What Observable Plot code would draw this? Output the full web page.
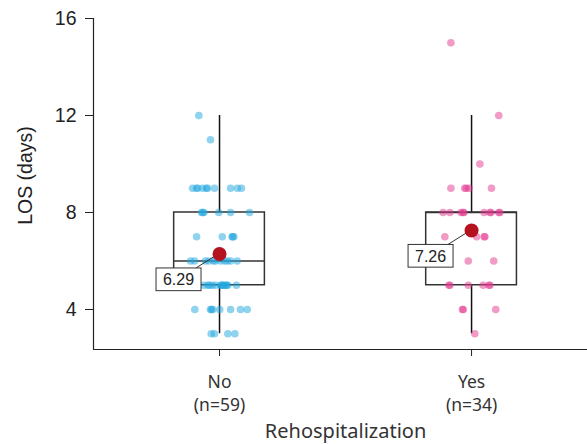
<!DOCTYPE html>
<html>
<head>
<meta charset="utf-8">
<script src="https://cdn.jsdelivr.net/npm/d3@7"></script>
<script src="https://cdn.jsdelivr.net/npm/@observablehq/plot@0.6"></script>
<style>
  html, body { margin: 0; padding: 0; background: #fff; }
</style>
</head>
<body>
<div id="chart"></div>
<script>
// ---- data ----
const categories = ["No", "Yes"];
const means = [6.29, 7.26];
const yTicks = [4, 8, 12, 16];
const yDomain = [2.35, 16];
const xDomain = [-0.5, 1.46];
const xTitle = "Rehospitalization";
const yTitle = "LOS (days)";

// Rehospitalization = No (n=59): length of stay and horizontal jitter (category units)
const noLOS = [
  12, 11,
  9, 9, 9, 9, 9, 9, 9, 9, 9, 9,
  8, 8, 8, 8, 8, 8,
  7, 7, 7, 7, 7,
  6, 6, 6, 6, 6, 6, 6, 6, 6, 6, 6,
  5, 5, 5, 5, 5, 5, 5, 5, 5, 5, 5, 5, 5,
  4, 4, 4, 4, 4, 4, 4, 4,
  3, 3, 3, 3
];
const noJitter = [
  -0.082, -0.036,
  -0.107, -0.091, -0.087, -0.067, -0.052, -0.048, -0.020, 0.044, 0.071, 0.087,
  -0.071, -0.062, -0.003, 0.044, 0.119, -0.067,
  -0.091, 0.011, 0.050, 0.057, 0.052,
  -0.115, -0.099, -0.056, -0.042, -0.024, 0.004, 0.031, 0.044, 0.070, -0.016, 0.020,
  -0.062, -0.046, -0.029, -0.016, 0.004, 0.012, 0.017, 0.024, 0.033, 0.067, -0.040, 0.008, 0.028,
  -0.098, -0.036, -0.027, 0.001, 0.044, 0.083, 0.110, -0.032,
  -0.033, -0.020, 0.033, 0.061
];

// Rehospitalization = Yes (n=34)
const yesLOS = [
  15, 12, 10,
  9, 9, 9, 9, 9,
  8, 8, 8, 8, 8, 8, 8, 8, 8, 8,
  7, 7, 7, 7,
  6, 6,
  5, 5, 5, 5, 5, 5,
  4, 4, 4,
  3
];
const yesJitter = [
  -0.082, 0.108, 0.033,
  -0.082, -0.027, -0.021, -0.010, 0.079,
  -0.113, -0.086, -0.042, -0.033, -0.031, 0.050, 0.073, 0.077, 0.108, 0.112,
  -0.106, 0.020, 0.050, 0.053,
  -0.013, 0.088,
  -0.090, -0.086, -0.013, 0.046, 0.069, 0.073,
  -0.036, -0.033, 0.096,
  0.013
];

const groupValues = [noLOS, yesLOS];
const groupJitter = [noJitter, yesJitter];
const groupColors = ["#22a8e0", "#e4388f"];

// ---- derived tables ----
const points = groupValues.map((vals, i) =>
  vals.map((v, j) => ({ x: i + groupJitter[i][j], y: v, g: i })));

const stats = groupValues.map((vals, i) => {
  const s = vals.slice().sort(d3.ascending);
  const q1 = d3.quantile(s, 0.25), med = d3.quantile(s, 0.5), q3 = d3.quantile(s, 0.75);
  const iqr = q3 - q1;
  const hi = d3.max(s.filter(v => v <= q3 + 1.5 * iqr));
  const lo = d3.min(s.filter(v => v >= q1 - 1.5 * iqr));
  return { pos: i, cat: categories[i], n: vals.length, q1, med, q3, lo, hi, mean: means[i],
           label: `${categories[i]}\n(n=${vals.length})` };
});

const boxHalf = 0.18;
const axisColor = "#222";

const labelMark = (index, scales) => {
  const g = d3.create("svg:g");
  stats.forEach(d => {
    const cx = scales.x(d.pos), cy = scales.y(d.mean);
    const w = 45, h = 22.7;
    const bx = cx - 18, by = cy + 14.5;
    g.append("line")
      .attr("x1", bx - 5).attr("y1", by).attr("x2", cx).attr("y2", cy)
      .attr("stroke", "#333").attr("stroke-width", 1);
    g.append("rect")
      .attr("x", bx - w).attr("y", by).attr("width", w).attr("height", h)
      .attr("fill", "#fff").attr("stroke", "#333").attr("stroke-width", 1);
    g.append("text")
      .attr("x", bx - w / 2).attr("y", by + h / 2 + 0.5)
      .attr("text-anchor", "middle").attr("dominant-baseline", "central")
      .attr("font-family", "Liberation Sans, Arial, sans-serif")
      .attr("font-size", 16).attr("fill", "#222")
      .text(d.mean.toFixed(2));
  });
  return g.node();
};

const chart = Plot.plot({
  width: 587,
  height: 444,
  marginTop: 18,
  marginBottom: 95,
  marginLeft: 93,
  marginRight: 0,
  style: { fontFamily: "Liberation Sans, Arial, sans-serif", fontSize: "19.5px", color: axisColor, background: "#fff" },
  x: { domain: xDomain, axis: null },
  y: { domain: yDomain, axis: null },
  marks: [
    // axis lines
    Plot.ruleX([xDomain[0]], { stroke: axisColor, strokeWidth: 1.2 }),
    Plot.ruleY([yDomain[0]], { stroke: axisColor, strokeWidth: 1.2 }),
    Plot.axisY({ ticks: yTicks, tickSize: 8, tickPadding: 9, fontSize: 19.5, label: null, stroke: axisColor }),
    Plot.axisX({ ticks: stats.map(d => d.pos), tickSize: 7, tickFormat: () => "", label: null, stroke: axisColor }),
    // whiskers
    Plot.ruleX(stats, { x: "pos", y1: "q3", y2: "hi", stroke: "#111", strokeWidth: 1.5 }),
    Plot.ruleX(stats, { x: "pos", y1: "lo", y2: "q1", stroke: "#111", strokeWidth: 1.5 }),
    // boxes
    Plot.rect(stats, { x1: d => d.pos - boxHalf, x2: d => d.pos + boxHalf, y1: "q1", y2: "q3",
                       fill: "none", stroke: "#333", strokeWidth: 1.5 }),
    Plot.ruleY(stats, { y: "med", x1: d => d.pos - boxHalf, x2: d => d.pos + boxHalf, stroke: "#333", strokeWidth: 1.5 }),
    // jittered points
    ...points.map((pts, i) => Plot.dot(pts, { x: "x", y: "y", r: 3.8, fill: groupColors[i], fillOpacity: 0.5, stroke: "none" })),
    // mean labels
    labelMark,
    Plot.dot(stats, { x: "pos", y: "mean", r: 7, fill: "#b3121e", stroke: "none" }),
    // x tick labels
    Plot.text(stats, { x: "pos", text: "label", frameAnchor: "bottom", lineAnchor: "top", dy: 21,
                       fontSize: 17.5, lineHeight: 1.37, fontFamily: "Noto Sans, sans-serif", fill: "#333" }),
    // axis titles
    Plot.text([xTitle], { x: d3.mean(stats, d => d.pos), text: d => d, frameAnchor: "bottom", lineAnchor: "top", dy: 74,
                          fontSize: 20, fontFamily: "Noto Sans, sans-serif", fill: "#333" }),
    Plot.text([yTitle], { text: d => d, frameAnchor: "left", textAnchor: "middle", lineAnchor: "middle",
                          rotate: -90, dx: -68, dy: -8.5, fontSize: 19.5, fill: "#222" })
  ]
});

document.getElementById("chart").appendChild(chart);
</script>
</body>
</html>
